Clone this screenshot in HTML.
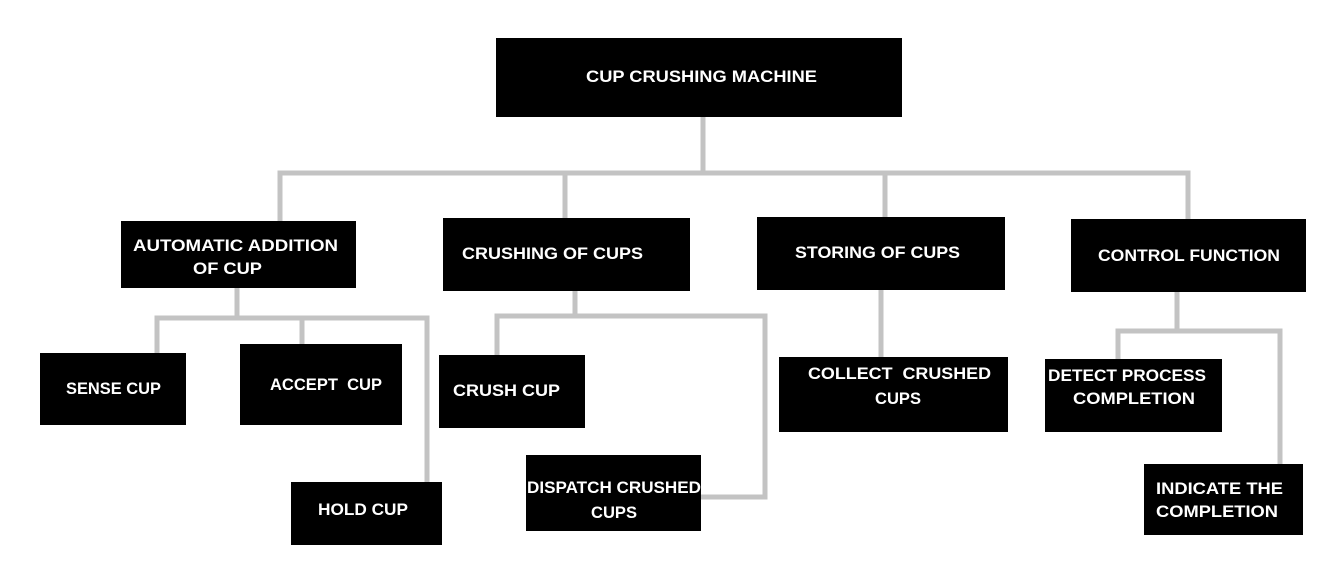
<!DOCTYPE html>
<html><head><style>html,body{margin:0;padding:0;background:#fff;width:1339px;height:576px;overflow:hidden}</style></head>
<body>
<svg width="1339" height="576" viewBox="0 0 1339 576" xmlns="http://www.w3.org/2000/svg">
<g stroke="#c3c3c3" stroke-width="5" fill="none" stroke-linecap="square">
<path d="M703 117V173M280 173H1188M280 173V221M565 173V218M885 173V217M1188 173V219"/>
<path d="M237 288V318M157 318H427M157 318V353M302 318V344M427 318V482"/>
<path d="M575 291V316M497 316H765V497H701M497 316V355"/>
<path d="M881 290V357"/>
<path d="M1177 292V331M1118 331H1280M1118 331V359M1280 331V464"/>
</g>
<g fill="#000">
<rect x="496" y="38" width="406" height="79"/>
<rect x="121" y="221" width="235" height="67"/>
<rect x="443" y="218" width="247" height="73"/>
<rect x="757" y="217" width="248" height="73"/>
<rect x="1071" y="219" width="235" height="73"/>
<rect x="40" y="353" width="146" height="72"/>
<rect x="240" y="344" width="162" height="81"/>
<rect x="291" y="482" width="151" height="63"/>
<rect x="439" y="355" width="146" height="73"/>
<rect x="526" y="455" width="175" height="76"/>
<rect x="779" y="357" width="229" height="75"/>
<rect x="1045" y="359" width="177" height="73"/>
<rect x="1144" y="464" width="159" height="71"/>
</g>
<g fill="#fff" font-family="Liberation Sans, sans-serif" font-size="17" font-weight="bold">
<text x="586" y="82" textLength="231" lengthAdjust="spacingAndGlyphs">CUP CRUSHING MACHINE</text>
<text x="133" y="251" textLength="205" lengthAdjust="spacingAndGlyphs">AUTOMATIC ADDITION</text>
<text x="193" y="274" textLength="69" lengthAdjust="spacingAndGlyphs">OF CUP</text>
<text x="462" y="259" textLength="181" lengthAdjust="spacingAndGlyphs">CRUSHING OF CUPS</text>
<text x="795" y="258" textLength="165" lengthAdjust="spacingAndGlyphs">STORING OF CUPS</text>
<text x="1098" y="261" textLength="182" lengthAdjust="spacingAndGlyphs">CONTROL FUNCTION</text>
<text x="66" y="394" textLength="95" lengthAdjust="spacingAndGlyphs">SENSE CUP</text>
<text x="270" y="390" textLength="112" lengthAdjust="spacingAndGlyphs">ACCEPT&#160;&#160;CUP</text>
<text x="318" y="515" textLength="90" lengthAdjust="spacingAndGlyphs">HOLD CUP</text>
<text x="453" y="396" textLength="107" lengthAdjust="spacingAndGlyphs">CRUSH CUP</text>
<text x="527" y="493" textLength="174" lengthAdjust="spacingAndGlyphs">DISPATCH CRUSHED</text>
<text x="591" y="518" textLength="46" lengthAdjust="spacingAndGlyphs">CUPS</text>
<text x="808" y="379" textLength="183" lengthAdjust="spacingAndGlyphs">COLLECT&#160;&#160;CRUSHED</text>
<text x="875" y="404" textLength="46" lengthAdjust="spacingAndGlyphs">CUPS</text>
<text x="1048" y="381" textLength="158" lengthAdjust="spacingAndGlyphs">DETECT PROCESS</text>
<text x="1073" y="404" textLength="122" lengthAdjust="spacingAndGlyphs">COMPLETION</text>
<text x="1156" y="494" textLength="127" lengthAdjust="spacingAndGlyphs">INDICATE THE</text>
<text x="1156" y="517" textLength="122" lengthAdjust="spacingAndGlyphs">COMPLETION</text>
</g>
</svg>
</body></html>
